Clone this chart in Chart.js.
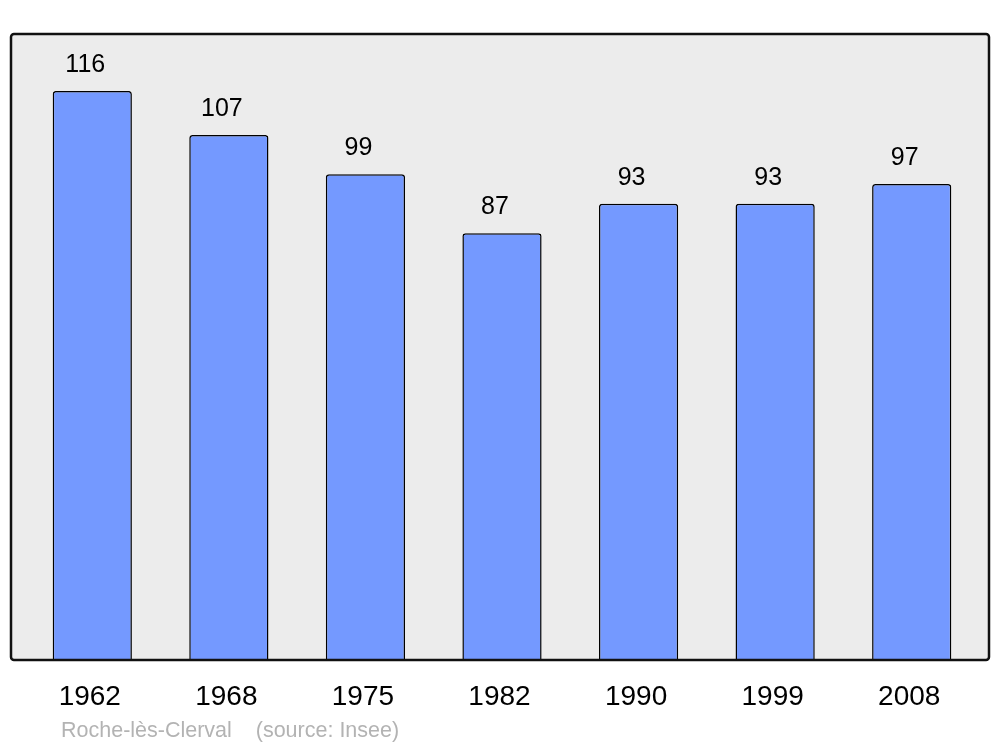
<!DOCTYPE html>
<html>
<head>
<meta charset="utf-8">
<script src="https://cdn.jsdelivr.net/npm/chart.js@4/dist/chart.umd.min.js"></script>
<style>
  html, body { margin: 0; padding: 0; background: #fff; }
  #wrap { width: 1000px; height: 747px; }
</style>
</head>
<body>
<div id="wrap"><canvas id="myChart" width="1000" height="747"></canvas></div>
<script>
// donnees
var years = ["1962", "1968", "1975", "1982", "1990", "1999", "2008"];
var population = [116, 107, 99, 87, 93, 93, 97];
var yMax = 127.6;
var footerText = "Roche-lès-Clerval    (source: Insee)";

// fond gris + cadre + etiquettes
const boxPlugin = {
  id: 'boxPlugin',
  beforeDatasetsDraw(chart) {
    const ctx = chart.ctx;
    const a = chart.chartArea;
    ctx.save();
    ctx.beginPath();
    ctx.roundRect(11, a.top, 978, a.bottom - a.top, 3);
    ctx.fillStyle = '#ececec';
    ctx.fill();
    ctx.restore();
  },
  afterDatasetsDraw(chart) {
    const ctx = chart.ctx;
    const a = chart.chartArea;
    const x = chart.scales.x;
    const meta = chart.getDatasetMeta(0);
    ctx.save();
    ctx.beginPath();
    ctx.roundRect(11, a.top, 978, a.bottom - a.top, 3);
    ctx.lineWidth = 2.5;
    ctx.strokeStyle = '#111';
    ctx.stroke();

    ctx.fillStyle = '#000';
    ctx.textAlign = 'center';
    ctx.textBaseline = 'alphabetic';
    ctx.font = '25px "Liberation Sans", Arial, sans-serif';
    meta.data.forEach(function(bar, i) {
      ctx.fillText(String(population[i]), bar.x - 7, bar.y - 19);
    });
    ctx.font = '28px "Liberation Sans", Arial, sans-serif';
    years.forEach(function(y, i) {
      ctx.fillText(y, x.getPixelForValue(i) - 2.5, 705);
    });
    ctx.fillStyle = '#b3b3b3';
    ctx.textAlign = 'left';
    ctx.font = '21.5px "Liberation Sans", Arial, sans-serif';
    ctx.fillText(footerText, 61, 737);
    ctx.restore();
  }
};

const data = {
  labels: years,
  datasets: [{
    data: population,
    backgroundColor: '#7499ff',
    borderColor: '#000',
    borderWidth: 1.5,
    borderSkipped: 'bottom',
    borderRadius: { topLeft: 3, topRight: 3, bottomLeft: 0, bottomRight: 0 },
    barPercentage: 0.58,
    categoryPercentage: 1.0
  }]
};

const config = {
  type: 'bar',
  data: data,
  options: {
    responsive: false,
    animation: false,
    layout: { padding: { left: 24, right: 20, top: 34, bottom: 87 } },
    plugins: {
      legend: { display: false },
      tooltip: { enabled: false }
    },
    scales: {
      x: { display: false },
      y: { display: false, min: 0, max: yMax }
    }
  },
  plugins: [boxPlugin]
};

const myChart = new Chart(document.getElementById('myChart'), config);
</script>
</body>
</html>
